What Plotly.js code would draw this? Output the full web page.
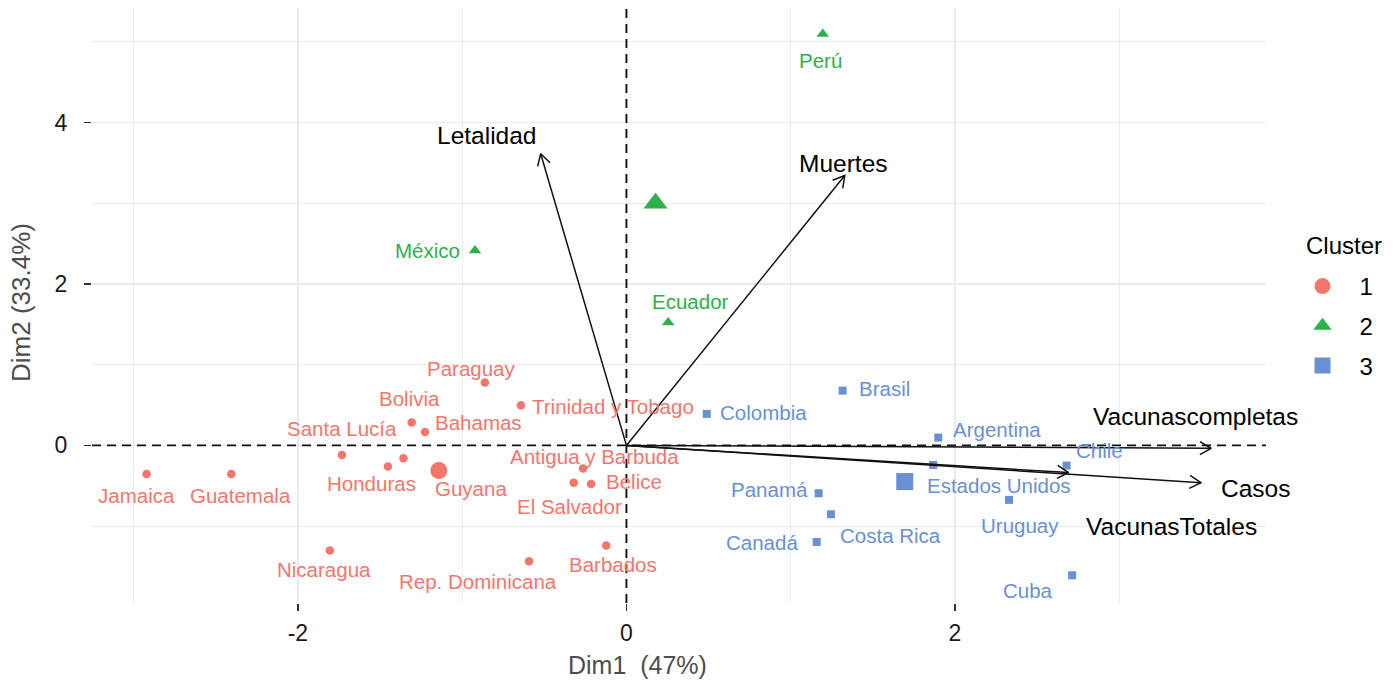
<!DOCTYPE html>
<html>
<head>
<meta charset="utf-8">
<script src="https://cdn.plot.ly/plotly-3.0.1.min.js"></script>
<style>html,body{margin:0;padding:0;background:#fff;}#plot{width:1398px;height:681px;}</style>
</head>
<body>
<div id="plot"></div>
<script>
// ---- data ----
const countries = ["Jamaica","Guatemala","Santa Lucía","Guyana","Honduras","Bolivia","Bahamas","Paraguay","Trinidad y Tobago","Antigua y Barbuda","El Salvador","Belice","Nicaragua","Rep. Dominicana","Barbados","México","Perú","Ecuador","Colombia","Brasil","Argentina","Estados Unidos","Chile","Panamá","Costa Rica","Canadá","Uruguay","Cuba"];
const dim1 = [-2.921,-2.405,-1.732,-1.357,-1.452,-1.307,-1.226,-0.862,-0.642,-0.264,-0.321,-0.215,-1.805,-0.593,-0.123,-0.922,1.195,0.254,0.489,1.316,1.898,1.867,2.679,1.170,1.245,1.158,2.329,2.713];
const dim2 = [-0.353,-0.353,-0.118,-0.159,-0.262,0.283,0.167,0.778,0.498,-0.287,-0.461,-0.477,-1.303,-1.435,-1.241,2.414,5.095,1.522,0.390,0.679,0.097,-0.242,-0.250,-0.593,-0.853,-1.196,-0.675,-1.609];
const cluster = [1,1,1,1,1,1,1,1,1,1,1,1,1,1,1,2,2,2,3,3,3,3,3,3,3,3,3,3];
const clusterNames = ["1","2","3"];
const centroidX = [-1.142, 0.177, 1.694];
const centroidY = [-0.312, 3.001, -0.448];
const varNames = ["Letalidad","Muertes","Vacunascompletas","Casos","VacunasTotales"];
const varX = [-0.522, 1.329, 3.559, 3.497, 2.691];
const varY = [3.612, 3.343, -0.035, -0.461, -0.337];
const xTickVals = [-2, 0, 2];
const xTickText = ["-2", "0", "2"];
const yTickVals = [0, 2, 4];
const yTickText = ["0", "2", "4"];
const xTitle = "Dim1\u00a0 (47%)";
const yTitle = "Dim2 (33.4%)";
const legendTitle = "Cluster";

// ---- label placement (pixel shifts, repel-like) ----
const labelShift = [[-10,-22],[9,-22],[0,26],[68,-30],[-16,-17],[-2,24],[53,9],[-13,14],[92,-1],[11,12],[-4,-24],[43,2],[-6,-19],[-51,-20],[7,-19],[-47,0],[-2,-26],[22,21],[57,1],[42,2],[59,8],[66,-21],[33,15],[-49,4],[60,-21],[-55,-1],[11,-26],[-44,-15]];
const varLabelShift = [[-54,18],[-1,12],[-16,32],[55,-6],[103,-54]];

// ---- styles ----
const FONT = "Liberation Sans, Arial, sans-serif";
const colors = ["#F3766C", "#2EB04B", "#6990D3"];
const symbols = ["circle", "triangle-up", "square"];
const smallSize = [8.5, 11, 8];
const bigSize = [17, 21, 17];
const xRange = [-3.253, 3.893];
const yRange = [-1.952, 5.418];
const margin = {l: 92, r: 132, t: 8, b: 78};
const W = 1398, H = 681;
const plotW = W - margin.l - margin.r, plotH = H - margin.t - margin.b;
const kx = plotW / (xRange[1] - xRange[0]);
const ky = plotH / (yRange[1] - yRange[0]);
// pixel -> paper helpers for titles
const px2paperX = p => (p - margin.l) / plotW;
const px2paperY = p => (H - margin.b - p) / plotH;

const traces = [];
// reference dashed lines through the origin
const dashStyle = {color: "#111", width: 1.9, dash: "9px,6px"};
traces.push({type: "scatter", mode: "lines", x: [0, 0], y: yRange, line: dashStyle, showlegend: false, hoverinfo: "skip"});
traces.push({type: "scatter", mode: "lines", x: xRange, y: [0, 0], line: dashStyle, showlegend: false, hoverinfo: "skip"});

// individual points
for (let c = 1; c <= 3; c++) {
  const xs = [], ys = [], tx = [];
  cluster.forEach((k, i) => { if (k === c) { xs.push(dim1[i]); ys.push(dim2[i]); tx.push(countries[i]); } });
  traces.push({type: "scatter", mode: "markers", x: xs, y: ys, text: tx, hoverinfo: "text",
    showlegend: false,
    marker: {symbol: symbols[c-1], size: smallSize[c-1], color: colors[c-1], line: {width: 0}}});
}
// centroids (also used as legend entries)
for (let c = 0; c < 3; c++) {
  traces.push({type: "scatter", mode: "markers", x: [centroidX[c]], y: [centroidY[c]],
    name: clusterNames[c], legendgroup: "g" + c, showlegend: true, hoverinfo: "skip",
    marker: {symbol: symbols[c], size: bigSize[c], color: colors[c], line: {width: 0}}});
}
// variable arrows
const headLen = 13, headAng = Math.PI / 6;
varNames.forEach((v, i) => {
  const hx = varX[i], hy = varY[i];
  const px = hx * kx, py = hy * ky;
  const len = Math.hypot(px, py);
  const bx = -px / len, by = -py / len;
  const legs = [1, -1].map(s => {
    const a = s * headAng;
    const rx = bx * Math.cos(a) - by * Math.sin(a);
    const ry = bx * Math.sin(a) + by * Math.cos(a);
    return [hx + headLen * rx / kx, hy + headLen * ry / ky];
  });
  traces.push({type: "scatter", mode: "lines", showlegend: false, hoverinfo: "skip",
    x: [0, hx, null, legs[0][0], hx, legs[1][0]],
    y: [0, hy, null, legs[0][1], hy, legs[1][1]],
    line: {color: "#111", width: 1.5}});
});

const annotations = [];
countries.forEach((n, i) => {
  annotations.push({x: dim1[i], y: dim2[i], text: n, showarrow: false,
    xshift: labelShift[i][0], yshift: labelShift[i][1],
    font: {family: FONT, size: 20.5, color: colors[cluster[i]-1]}});
});
varNames.forEach((n, i) => {
  annotations.push({x: varX[i], y: varY[i], text: n, showarrow: false,
    xshift: varLabelShift[i][0], yshift: varLabelShift[i][1],
    font: {family: FONT, size: 24.5, color: "#000"}});
});
// axis titles and legend title
annotations.push({xref: "paper", yref: "paper", x: px2paperX(637), y: px2paperY(665), text: xTitle,
  showarrow: false, xanchor: "center", yanchor: "middle", font: {family: FONT, size: 25, color: "#4d4d4d"}});
annotations.push({xref: "paper", yref: "paper", x: px2paperX(20.5), y: px2paperY(302.5), text: yTitle,
  textangle: -90, showarrow: false, xanchor: "center", yanchor: "middle", font: {family: FONT, size: 26, color: "#4d4d4d"}});
annotations.push({xref: "paper", yref: "paper", x: px2paperX(1344), y: px2paperY(245), text: legendTitle,
  showarrow: false, xanchor: "center", yanchor: "middle", font: {family: FONT, size: 24, color: "#000"}});

const gridCol = "#ebebeb";
const axisCommon = {
  showgrid: true, gridcolor: gridCol, gridwidth: 1.6, zeroline: false, showline: false,
  ticks: "outside", ticklen: 7, tickwidth: 1.5, tickcolor: "#333",
  tickfont: {family: FONT, size: 23, color: "#1a1a1a"},
  minor: {tickmode: "linear", tick0: 1, dtick: 2, showgrid: true, gridcolor: gridCol, gridwidth: 1}
};
const layout = {
  width: W, height: H,
  margin: Object.assign({autoexpand: false}, margin),
  paper_bgcolor: "#fff", plot_bgcolor: "#fff",
  font: {family: FONT, color: "#000"},
  xaxis: Object.assign({range: xRange, tickmode: "array", tickvals: xTickVals, ticktext: xTickText,
    ticklabelstandoff: 2}, axisCommon),
  yaxis: Object.assign({range: yRange, tickmode: "array", tickvals: yTickVals, ticktext: yTickText,
    ticklabelstandoff: 12}, axisCommon),
  annotations: annotations,
  legend: {xref: "container", yref: "container", x: 1285.5 / W, y: 1 - 264 / H, xanchor: "left", yanchor: "top",
    font: {family: FONT, size: 24, color: "#000"}, traceorder: "grouped", tracegroupgap: 5.5,
    itemwidth: 64, bgcolor: "rgba(0,0,0,0)"},
  showlegend: true
};

Plotly.newPlot("plot", traces, layout, {displayModeBar: false, staticPlot: true});
</script>
</body>
</html>
